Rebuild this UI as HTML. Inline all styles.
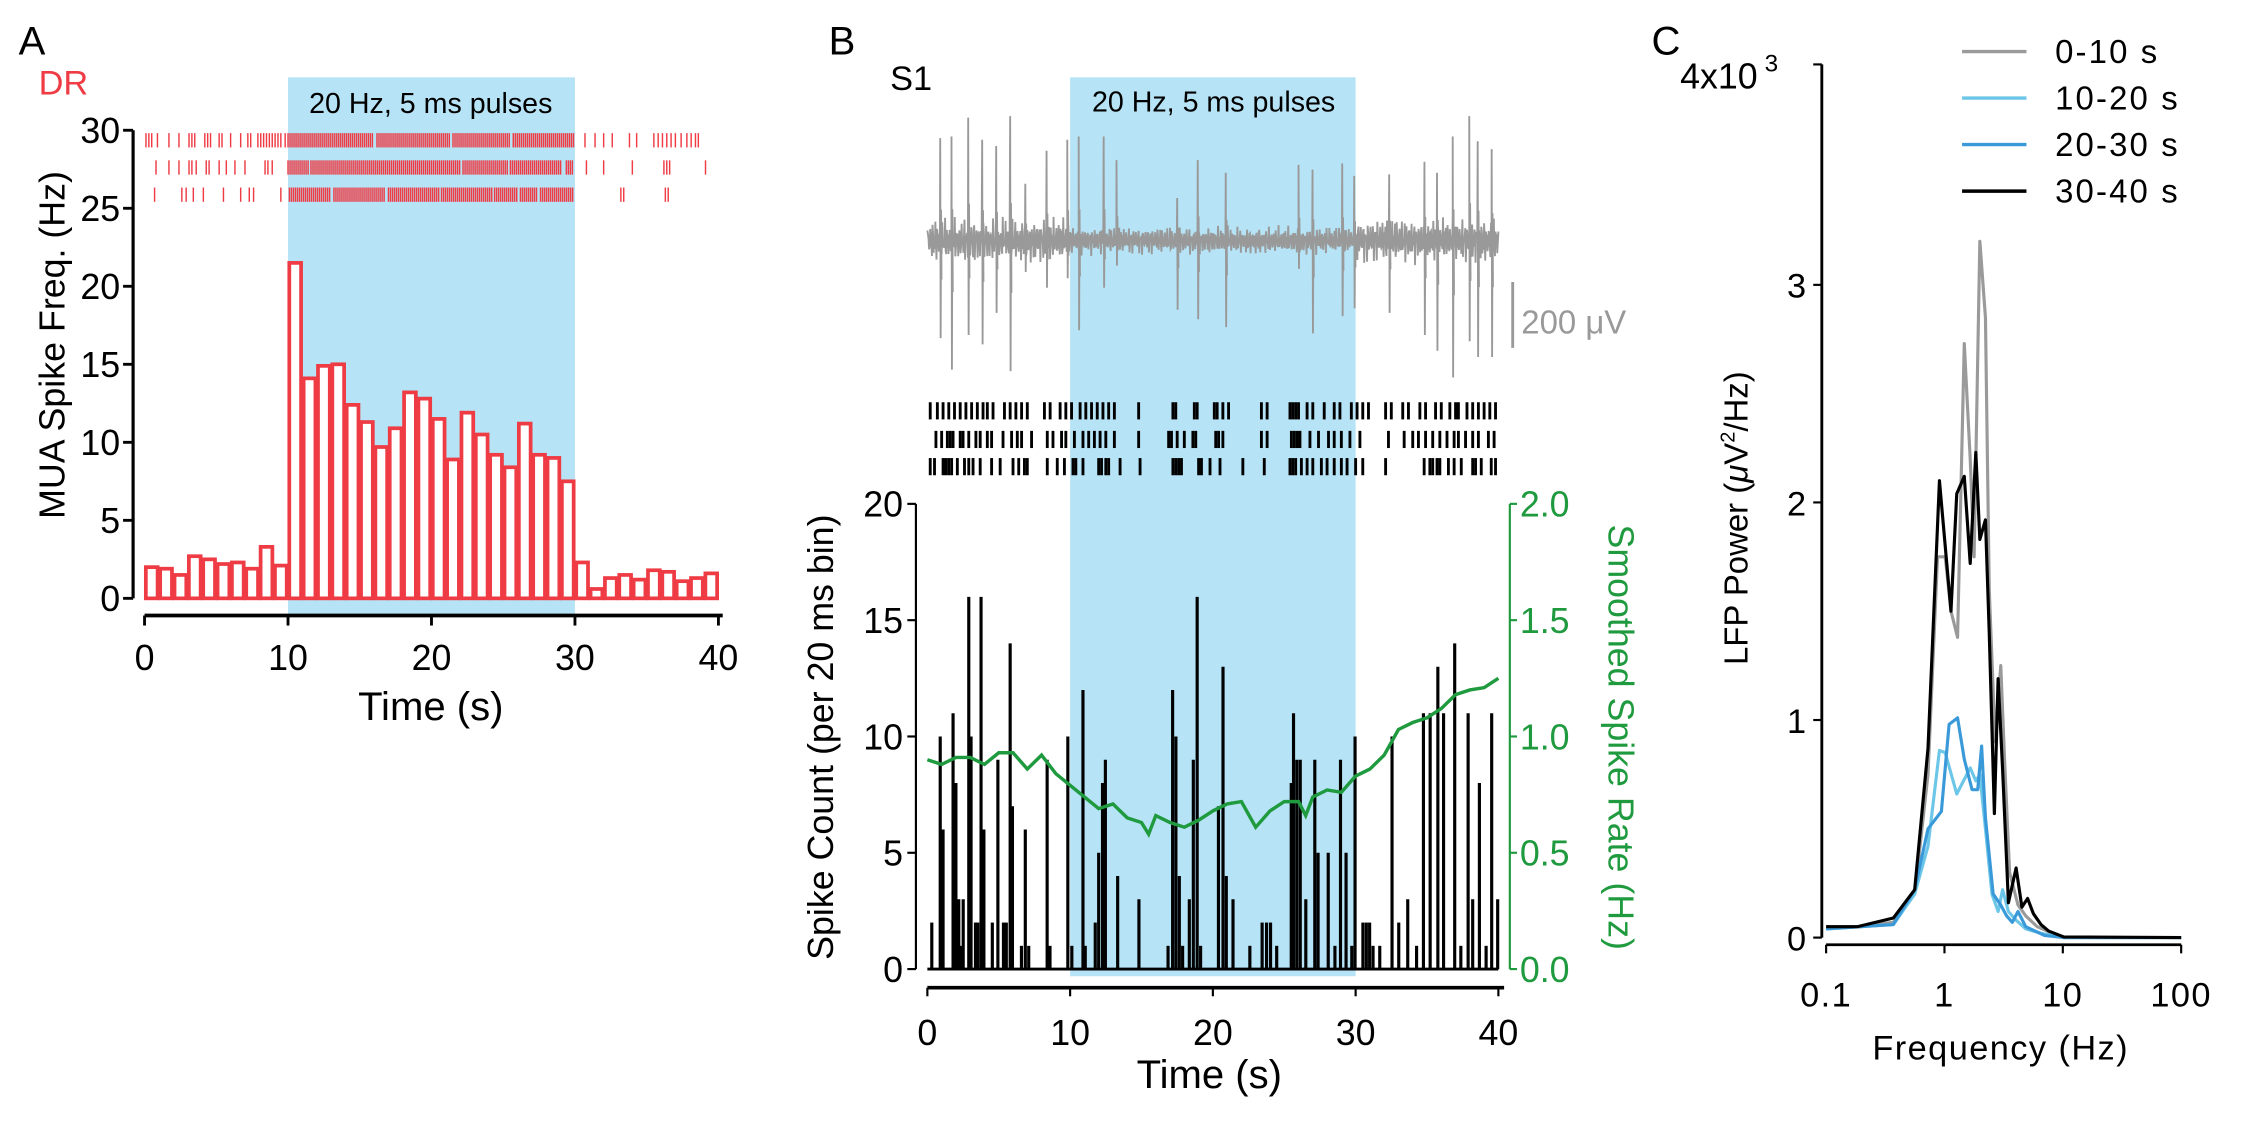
<!DOCTYPE html>
<html><head><meta charset="utf-8">
<style>
html,body{margin:0;padding:0;background:#fff;}
svg{display:block;font-family:"Liberation Sans",Arial,sans-serif;}
</style></head>
<body>
<svg id="fig" width="2244" height="1138" viewBox="0 0 1568 795" preserveAspectRatio="none" xmlns="http://www.w3.org/2000/svg">
<g id="pA"></g>
<g id="pB"></g>
<g id="pC"></g>
</svg>
<script>
// ===== Panel A data =====
const aBinValues = [2.0,1.9,1.5,2.7,2.5,2.2,2.3,1.9,3.3,2.1, 21.5,14.1,14.9,15.0,12.4,11.3,9.7,10.9,13.2,12.8, 11.5,8.9,11.9,10.5,9.2,8.4,11.2,9.2,9.0,7.5, 2.3,0.6,1.3,1.5,1.2,1.8,1.7,1.1,1.3,1.6];
const aYTicks = [0,5,10,15,20,25,30];
const aXTicks = [0,10,20,30,40];
const aRaster1 = [0.1,0.3,0.5,0.9,1.7,2.4,3.1,3.3,3.5,4.2,4.4,4.6,5.2,5.4,6.0,6.7,7.2,7.4,7.9,8.1,8.3,8.5,8.7,8.9,9.1,9.3,9.5,9.8,30.7,31.4,32.0,32.6,33.8,34.3,35.5,35.8,36.1,36.4,36.7,37.0,37.4,37.8,38.1,38.4,38.6];
const aRaster2 = [0.8,1.7,2.4,3.1,3.3,3.6,4.3,4.5,5.2,5.7,6.3,7.0,8.4,8.6,8.9,30.8,32.0,34.0,36.2,36.4,36.6,39.1];
const aRaster3 = [0.7,2.6,2.9,3.4,4.1,5.5,6.7,7.3,7.6,9.5,33.2,33.4,36.3,36.5];
const aBursts1 = [[10.0,16.0],[16.2,21.3],[21.5,25.5],[25.7,29.9]];
const aBursts2 = [[10.0,11.4],[11.6,22.0],[22.2,25.3],[25.5,29.1],[29.4,29.9]];
const aBursts3 = [[10.1,13.0],[13.2,16.8],[17.0,20.5],[20.7,24.2],[24.4,26.0],[26.2,27.4],[27.6,29.9]];

// ===== Panel B data =====
const bCountTimes = [0.31,0.90,1.10,1.80,2.00,2.20,2.35,2.51,2.90,3.06,3.37,3.53,3.76,3.96,4.55,4.94,5.33,5.53,5.80,5.96,6.59,6.86,7.10,8.39,8.59,9.84,10.12,10.90,11.06,11.76,12.00,12.27,12.47,13.33,14.82,16.86,17.18,17.41,17.65,17.88,18.35,18.63,18.90,19.14,20.39,20.71,20.94,21.41,22.59,23.45,23.76,24.04,24.47,25.49,25.65,25.88,26.12,26.51,27.14,27.37,28.08,28.55,28.94,29.33,29.73,29.96,30.51,30.75,30.98,31.22,31.69,32.55,33.02,33.65,34.27,34.75,35.22,35.76,36.16,36.94,37.37,37.88,38.20,38.67,39.14,39.53,39.95];
const bCountValues = [2,10,6,11,8,3,1,3,16,10,2,2,16,6,2,9,2,2,14,7,1,6,1,9,1,10,1,12,1,2,5,8,9,4,3,1,12,10,4,1,3,9,16,1,7,13,4,3,1,2,2,2,1,8,11,9,9,3,9,5,5,1,9,5,1,10,2,2,2,1,1,10,2,3,1,11,11,13,11,14,1,11,3,8,1,11,3];
const bRateTimes = [0,1,2,3,4,5,6,7,8,9,10,11,12,13,14,15,15.5,16,17,18,19,20,21,22,23,24,25,26,26.5,27,28,29,30,31,32,33,34,35,36,37,38,39,40];
const bRateValues = [0.90,0.88,0.91,0.91,0.88,0.93,0.93,0.86,0.92,0.84,0.79,0.74,0.69,0.71,0.65,0.63,0.58,0.66,0.63,0.61,0.64,0.68,0.71,0.72,0.61,0.68,0.72,0.72,0.66,0.74,0.77,0.76,0.83,0.86,0.92,1.03,1.06,1.08,1.12,1.18,1.20,1.21,1.25];
const bCountTicks = [0,5,10,15,20];
const bRateTicks = ["0.0","0.5","1.0","1.5","2.0"];
const bXTicks = [0,10,20,30,40];
const bSpikeTimes = [0.9,1.69,2.86,3.84,4.82,5.80,6.86,8.35,9.8,10.6,12.35,13.25,17.5,18.94,20.9,26.0,26.98,29.06,29.9,32.35,34.82,35.7,36.8,37.96,38.55,39.53];
const bSpikeUp = [325,330,390,320,300,395,180,285,320,330,330,255,135,255,215,240,225,245,205,210,250,215,330,395,315,290];
const bSpikeDown = [310,410,300,330,230,415,100,150,120,285,150,80,220,250,275,90,295,240,215,230,300,350,435,320,370,370];
const bRaster1 = [0.2,0.7,1.1,1.5,1.9,2.3,2.7,3.1,3.5,3.9,4.2,4.6,5.4,5.8,6.2,6.6,7.0,8.2,8.6,9.3,9.7,10.1,10.7,11.1,11.5,11.9,12.3,12.7,13.1,14.8,17.2,17.4,18.7,18.9,20.1,20.3,20.7,21.1,23.4,23.8,25.4,25.6,25.8,26.0,26.6,27.0,27.8,28.5,28.9,29.7,30.1,30.5,30.9,32.1,32.5,33.3,33.7,34.5,34.9,35.6,36.0,36.6,37.0,37.2,37.8,38.2,38.6,39.0,39.4,39.8];
const bRaster2 = [0.6,1.0,1.4,1.6,1.8,2.3,2.5,2.9,3.4,3.7,4.2,4.5,5.3,5.9,6.3,6.6,7.3,8.4,8.8,9.4,9.7,10.3,10.9,11.3,11.7,12.1,12.5,13.1,14.8,16.9,17.1,17.5,18.0,18.6,18.8,20.2,20.4,20.7,23.4,23.8,25.5,25.7,25.9,26.1,26.8,27.4,28.1,28.5,29.0,29.6,30.3,32.3,33.4,34.0,34.4,34.9,35.4,35.9,36.4,36.9,37.2,37.7,38.2,38.6,39.3,39.7];
const bRaster3 = [0.2,0.5,1.1,1.3,1.5,1.7,2.1,2.6,2.9,3.2,3.7,4.5,5.1,6.0,6.4,6.8,7.0,8.4,9.1,9.6,10.2,10.4,10.9,12.0,12.2,12.5,12.7,13.5,14.9,17.2,17.4,17.6,17.8,19.0,19.2,19.8,20.5,22.1,23.6,25.4,25.6,25.8,26.2,26.6,27.0,27.6,28.0,28.5,29.0,29.4,30.0,30.5,32.1,34.8,35.2,35.4,35.7,35.9,36.5,36.9,37.4,38.2,38.4,38.8,39.5,39.8];

// ===== Panel C data =====
const cBlackF = [0.1,0.183,0.37,0.56,0.726,0.907,1.135,1.27,1.47,1.65,1.84,1.99,2.22,2.39,2.64,2.84,3.1,3.47,4.03,4.51,5.04,5.64,6.54,7.59,10.2,100];
const cBlackP = [0.05,0.05,0.09,0.22,0.87,2.10,1.50,2.04,2.12,1.72,2.23,1.83,1.92,1.40,0.57,1.19,0.77,0.16,0.32,0.14,0.18,0.11,0.06,0.03,0.003,0];
const cGrayF = [0.1,0.183,0.37,0.56,0.726,0.874,1.015,1.135,1.29,1.47,1.65,1.78,1.99,2.22,2.39,2.68,2.99,3.23,3.55,4.18,4.86,6.08,8.2,10.2,100];
const cGrayP = [0.05,0.05,0.07,0.20,0.75,1.75,1.75,1.50,1.38,2.73,2.20,1.75,3.20,2.85,1.60,0.90,1.25,0.80,0.30,0.15,0.10,0.05,0.02,0,0];
const cLightF = [0.1,0.37,0.56,0.726,0.907,1.015,1.27,1.65,1.84,1.99,2.22,2.52,2.84,3.1,3.47,4.03,4.86,6.54,10.2,100];
const cLightP = [0.04,0.06,0.20,0.42,0.86,0.85,0.66,0.78,0.72,0.75,0.50,0.20,0.12,0.22,0.12,0.08,0.04,0.02,0,0];
const cBlueF = [0.1,0.37,0.56,0.726,0.942,1.094,1.29,1.47,1.71,1.91,2.06,2.22,2.58,2.99,3.35,3.74,4.18,4.86,7.0,10.2,100];
const cBlueP = [0.04,0.06,0.22,0.50,0.58,0.98,1.01,0.82,0.68,0.68,0.88,0.55,0.20,0.15,0.10,0.07,0.12,0.05,0.01,0,0];
const cYTicks = [0,1,2,3];
const cXTicks = ["0.1","1","10","100"];
const cLegendLabels = ["0-10 s","10-20 s","20-30 s","30-40 s"];

const NS = "http://www.w3.org/2000/svg";
function mk(parent, tag, attrs, text){
  const e = document.createElementNS(NS, tag);
  for (const k in attrs) e.setAttribute(k, attrs[k]);
  if (text !== undefined) e.textContent = text;
  parent.appendChild(e);
  return e;
}
const RED = "#ee3b44", SKY = "#b6e3f5", GREEN = "#1f9a3e";

// ---------------- Panel A ----------------
(function(){
  const g = document.getElementById("pA");
  const xA = t => 101 + t * (401/40);
  const yA = v => 418 - v * (327/30);
  let e;
  e = mk(g,"rect",{x:xA(10),y:54,width:xA(30)-xA(10),height:430-54,fill:SKY});
  
  
  e = mk(g,"text",{x:301,y:79,"font-size":20,"text-anchor":"middle",fill:"#000"},"20 Hz, 5 ms pulses");
  
  
  e = mk(g,"text",{x:13,y:38,"font-size":28,fill:"#000"},"A");
  
  
  e = mk(g,"text",{x:27,y:66,"font-size":24,fill:RED},"DR");
  
  
  aBinValues.forEach((v,i)=>{
    const b = mk(g,"rect",{x:xA(i)+0.9,y:yA(v),width:xA(i+1)-xA(i)-1.8,height:yA(0)-yA(v),fill:"#fff",stroke:RED,"stroke-width":2.6});
    
    
  });
  const rows = [[aRaster1,aBursts1,98],[aRaster2,aBursts2,117],[aRaster3,aBursts3,136]];
  rows.forEach(([times,bursts,yc],ri)=>{
    const rg = mk(g,"g",{stroke:RED,"stroke-width":1});
    
    
    times.forEach(t=>mk(rg,"line",{x1:xA(t),x2:xA(t),y1:yc-5,y2:yc+5}));
    bursts.forEach(([s,en])=>{
      for(let t=s;t<=en+1e-6;t+=0.14) mk(rg,"line",{x1:xA(t),x2:xA(t),y1:yc-5,y2:yc+5,"stroke-width":1});
    });
  });
  e = mk(g,"line",{x1:93,x2:93,y1:yA(30),y2:yA(0),stroke:"#000","stroke-width":2.2});
  
  
  aYTicks.forEach(v=>{
    mk(g,"line",{x1:86,x2:93,y1:yA(v),y2:yA(v),stroke:"#000","stroke-width":2});
    const t = mk(g,"text",{x:84,y:yA(v)+9,"font-size":25,"text-anchor":"end"},String(v));
    
    
  });
  e = mk(g,"line",{x1:xA(0),x2:xA(40)+3,y1:430,y2:430,stroke:"#000","stroke-width":2.6});
  
  
  aXTicks.forEach(v=>{
    mk(g,"line",{x1:xA(v),x2:xA(v),y1:430,y2:437,stroke:"#000","stroke-width":2});
    const t = mk(g,"text",{x:xA(v),y:468,"font-size":25,"text-anchor":"middle"},String(v));
    
    
  });
  e = mk(g,"text",{x:301,y:503,"font-size":28,"text-anchor":"middle"},"Time (s)");
  
  
  e = mk(g,"text",{x:0,y:0,"font-size":25,"text-anchor":"middle",transform:"translate(45,241) rotate(-90)"},"MUA Spike Freq. (Hz)");
  
  
})();

// ---------------- Panel B ----------------
(function(){
  const g = document.getElementById("pB");
  const xB = t => 648 + t * (399/40);
  const yL = v => 677 - v * (325/20);
  const yR = v => 677 - v * (325/2);
  let e;
  e = mk(g,"rect",{x:xB(10),y:54,width:xB(30)-xB(10),height:682-54,fill:SKY});
  
  
  e = mk(g,"text",{x:848,y:78,"font-size":20,"text-anchor":"middle"},"20 Hz, 5 ms pulses");
  
  
  e = mk(g,"text",{x:579,y:38,"font-size":28},"B");
  
  
  e = mk(g,"text",{x:622,y:63,"font-size":24},"S1");
  
  
  const base = 168, k = 0.22;
  let pts = [];
  let si = 0;
  for (let t=0; t<=40.0001; t+=0.04){
    const inStim = t>=10 && t<=30;
    const amp = inStim ? 5 : 8;
    const n = amp*(Math.sin(t*37.1)+0.7*Math.sin(t*91.7+1.3)+0.5*Math.sin(t*213.3+0.4));
    pts.push([xB(t), base - n]);
    while (si < bSpikeTimes.length && bSpikeTimes[si] <= t+0.04 && bSpikeTimes[si] > t){
      const ts = bSpikeTimes[si];
      pts.push([xB(ts), base - bSpikeUp[si]*k]);
      pts.push([xB(ts)+0.3, base + bSpikeDown[si]*k]);
      pts.push([xB(ts)+0.6, base - bSpikeUp[si]*k*0.3]);
      pts.push([xB(ts)+0.9, base + bSpikeDown[si]*k*0.4]);
      si++;
    }
  }
  e = mk(g,"path",{d:"M"+pts.map(p=>p[0].toFixed(2)+","+p[1].toFixed(2)).join("L"),fill:"none",stroke:"#999","stroke-width":1.3});
  
  
  e = mk(g,"line",{x1:1057,x2:1057,y1:197,y2:243,stroke:"#999","stroke-width":2});
  
  
  e = mk(g,"text",{x:1063,y:233,"font-size":23,fill:"#999"},"200 μV");
  
  
  [[bRaster1,287],[bRaster2,307],[bRaster3,326]].forEach(([times,yc])=>{
    const rg = mk(g,"g",{stroke:"#000","stroke-width":2});
    
    
    times.forEach(t=>mk(rg,"line",{x1:xB(t),x2:xB(t),y1:yc-6,y2:yc+6}));
  });
  e = mk(g,"line",{x1:xB(0),x2:xB(40),y1:yL(0),y2:yL(0),stroke:"#000","stroke-width":2});
  const bg = mk(g,"g",{stroke:"#000","stroke-width":2.2});
  
  
  bCountTimes.forEach((t,i)=>{
    const l = mk(bg,"line",{x1:xB(t),x2:xB(t),y1:yL(0),y2:yL(bCountValues[i])});
    
    
  });
  e = mk(g,"path",{d:"M"+bRateTimes.map((t,i)=>xB(t).toFixed(2)+","+yR(bRateValues[i]).toFixed(2)).join("L"),fill:"none",stroke:GREEN,"stroke-width":2.4});
  
  
  e = mk(g,"line",{x1:640,x2:640,y1:yL(20),y2:yL(0),stroke:"#000","stroke-width":1.5});
  
  
  bCountTicks.forEach(v=>{
    mk(g,"line",{x1:634,x2:640,y1:yL(v),y2:yL(v),stroke:"#000","stroke-width":1.5});
    const t = mk(g,"text",{x:631,y:yL(v)+9,"font-size":25,"text-anchor":"end"},String(v));
    
    
  });
  e = mk(g,"line",{x1:1055,x2:1055,y1:yR(2),y2:yR(0),stroke:GREEN,"stroke-width":1.5});
  
  
  bRateTicks.forEach(s=>{
    const v = parseFloat(s);
    mk(g,"line",{x1:1055,x2:1060,y1:yR(v),y2:yR(v),stroke:GREEN,"stroke-width":1.5});
    const t = mk(g,"text",{x:1062,y:yR(v)+9,"font-size":25,fill:GREEN},s);
    
    
  });
  e = mk(g,"line",{x1:xB(0),x2:xB(40)+4,y1:690,y2:690,stroke:"#000","stroke-width":2.6});
  
  
  bXTicks.forEach(v=>{
    mk(g,"line",{x1:xB(v),x2:xB(v),y1:690,y2:696,stroke:"#000","stroke-width":1.5});
    const t = mk(g,"text",{x:xB(v),y:730,"font-size":25,"text-anchor":"middle"},String(v));
    
    
  });
  e = mk(g,"text",{x:845,y:760,"font-size":28,"text-anchor":"middle"},"Time (s)");
  
  
  e = mk(g,"text",{x:0,y:0,"font-size":25,"text-anchor":"middle",transform:"translate(582,515) rotate(-90)"},"Spike Count (per 20 ms bin)");
  
  
  e = mk(g,"text",{x:0,y:0,"font-size":25,"text-anchor":"middle",fill:GREEN,transform:"translate(1124,515) rotate(90)"},"Smoothed Spike Rate (Hz)");
  
  
})();

// ---------------- Panel C ----------------
(function(){
  const g = document.getElementById("pC");
  const xC = f => 1276 + (Math.log10(f)+1) * 82.7;
  const yC = p => 655 - p * 152;
  let e;
  e = mk(g,"text",{x:1154,y:38,"font-size":28},"C");
  
  
  e = mk(g,"text",{x:1174,y:62,"font-size":25},"4x10");
  
  
  mk(g,"text",{x:1233,y:50,"font-size":17},"3");
  const series = [[cGrayF,cGrayP,"#9a9a9a","series-0-10"],[cLightF,cLightP,"#6cc6e8","series-10-20"],[cBlueF,cBlueP,"#3a9ad9","series-20-30"],[cBlackF,cBlackP,"#000","series-30-40"]];
  series.forEach(([F,P,col,name])=>{
    const p = mk(g,"path",{d:"M"+F.map((f,i)=>xC(f).toFixed(2)+","+yC(P[i]).toFixed(2)).join("L"),fill:"none",stroke:col,"stroke-width":2.2,"stroke-linejoin":"round"});
    
    
  });
  e = mk(g,"line",{x1:1273,x2:1273,y1:45,y2:yC(0),stroke:"#000","stroke-width":2});
  
  
  cYTicks.forEach(v=>{
    mk(g,"line",{x1:1267,x2:1273,y1:yC(v),y2:yC(v),stroke:"#000","stroke-width":1.5});
    const t = mk(g,"text",{x:1262,y:yC(v)+9,"font-size":24,"text-anchor":"end"},String(v));
    
    
  });
  mk(g,"line",{x1:1267,x2:1273,y1:45,y2:45,stroke:"#000","stroke-width":1.5});
  e = mk(g,"line",{x1:xC(0.1),x2:xC(100),y1:660,y2:660,stroke:"#000","stroke-width":2});
  
  
  cXTicks.forEach(s=>{
    const f = parseFloat(s);
    mk(g,"line",{x1:xC(f),x2:xC(f),y1:660,y2:666,stroke:"#000","stroke-width":1.5});
    const t = mk(g,"text",{x:xC(f),y:703,"font-size":24,"text-anchor":"middle","letter-spacing":1},s);
    
    
  });
  e = mk(g,"text",{x:1398,y:740,"font-size":24,"text-anchor":"middle","letter-spacing":1},"Frequency (Hz)");
  
  
  e = mk(g,"text",{x:0,y:0,"font-size":23,"text-anchor":"middle",transform:"translate(1221,362) rotate(-90)"});
  
  
  e.innerHTML = 'LFP Power (<tspan font-style="italic">μ</tspan>V<tspan dy="-9" font-size="14">2</tspan><tspan dy="9">/Hz)</tspan>';
  const lc = ["#9a9a9a","#6cc6e8","#3a9ad9","#000"];
  cLegendLabels.forEach((lab,i)=>{
    const y = 36 + i*32.5;
    const lg = mk(g,"g",{});
    
    
    mk(lg,"line",{x1:1371,x2:1416,y1:y,y2:y,stroke:lc[i],"stroke-width":2.4});
    mk(lg,"text",{x:1436,y:y+8,"font-size":23,"letter-spacing":1.5},lab);
  });
})();
</script>
</body></html>
